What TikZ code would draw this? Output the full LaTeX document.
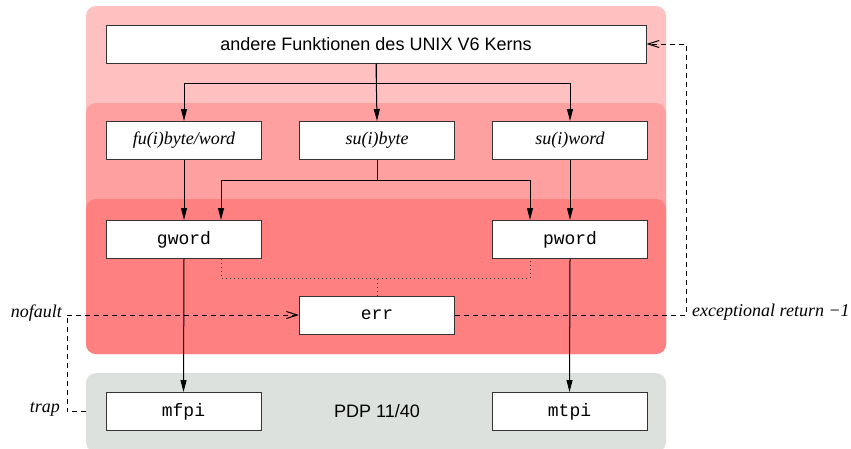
\documentclass[tikz,border=0pt]{standalone}
\usepackage{fontspec}
\setmainfont{Liberation Serif}
\setsansfont{Liberation Sans}
\setmonofont{Liberation Mono}
\usetikzlibrary{arrows.meta,calc}
\definecolor{pinkA}{HTML}{FFC0C0}
\definecolor{pinkB}{HTML}{FFA0A0}
\definecolor{pinkC}{HTML}{FF8080}
\definecolor{grayA}{HTML}{DDE1DD}
\tikzset{
  box/.style={draw=black!80, fill=white, line width=1pt, minimum width=155pt, minimum height=38pt, inner sep=0pt, font=\fontsize{18}{21}\selectfont},
  itbox/.style={box, font=\fontsize{18}{21}\selectfont\itshape},
  ttbox/.style={box, font=\fontsize{18}{21}\selectfont\ttfamily},
  lab/.style={inner sep=0pt, font=\fontsize{18}{21}\selectfont\itshape},
  conn/.style={line width=1pt, black},
  arr/.style={conn, -{Triangle[length=12pt,width=6pt]}},
  dsh/.style={line width=1pt, black, dash pattern=on 5pt off 4pt},
  oarr/.style={dsh, -{Straight Barb[length=11pt,width=7pt,line width=1pt]}},
  dot/.style={line width=1pt, black!75, dash pattern=on 1pt off 3pt},
  region/.style={rounded corners=10pt}
}
\begin{document}
\begin{tikzpicture}[x=1pt, y=-1pt]
\useasboundingbox (0,0) rectangle (851,448);
% background regions
\fill[pinkA, region] (86,6) rectangle (666,354);
\fill[pinkB, region] (86,103) rectangle (666,354);
\fill[pinkC, region] (86,199) rectangle (666,354);
\fill[grayA, region] (86,373) rectangle (666,452);
% boxes
\node[box, minimum width=540pt, font=\fontsize{18}{21}\selectfont\sffamily] (top) at (376,44) {andere Funktionen des UNIX V6 Kerns};
\node[itbox] (fu) at (184,140.5) {fu(i)byte/word};
\node[itbox] (sub) at (377,140.5) {su(i)byte};
\node[itbox] (suw) at (570,140.5) {su(i)word};
\node[ttbox] (gword) at (184,239.5) {gword};
\node[ttbox] (pword) at (570,239.5) {pword};
\node[ttbox] (err) at (377,315) {err};
\node[ttbox] (mfpi) at (183.5,411.5) {mfpi};
\node[ttbox] (mtpi) at (569.5,411.5) {mtpi};
\node[inner sep=0pt, font=\fontsize{18}{21}\selectfont\sffamily] (pdp) at (377,411.5) {PDP 11/40};
% labels
\node[lab, anchor=east] (nofault) at (62,313) {nofault};
\node[lab, anchor=east] (trap) at (60,409) {trap};
\node[lab, anchor=west] (exc) at (692,312) {exceptional return −1};
% connectors
\draw[arr] (top.south) -- (sub.north);
\draw[arr] (top.south) -- ++(0,20) -| (fu.north);
\draw[arr] (top.south) -- ++(0,20) -| (suw.north);
\draw[arr] (sub.south) -- ++(0,20) -| ([xshift=37pt]gword.north);
\draw[arr] (sub.south) -- ++(0,20) -| ([xshift=-40pt]pword.north);
\draw[arr] (fu.south) -- (gword.north);
\draw[arr] (suw.south) -- (pword.north);
\draw[arr] (gword.south) -- (mfpi.north);
\draw[arr] (pword.south) -- (mtpi.north);
% dotted
\coordinate (dl) at ($([xshift=37pt]gword.south)+(0,19)$);
\draw[dot] ([xshift=37pt]gword.south) -- (dl) -| ([xshift=-40pt]pword.south);
\draw[dot] (err.north) -- (err.north |- dl);
% dashed
\coordinate (nf) at (67,315);
\coordinate (tp) at (86,411.5);
\coordinate (er) at (686,315);
\draw[oarr] (nf) -- (err.west);
\draw[dsh] (tp) -| (nf);
\draw[oarr] (err.east) -- (er) |- (top.east);
\end{tikzpicture}
\end{document}
